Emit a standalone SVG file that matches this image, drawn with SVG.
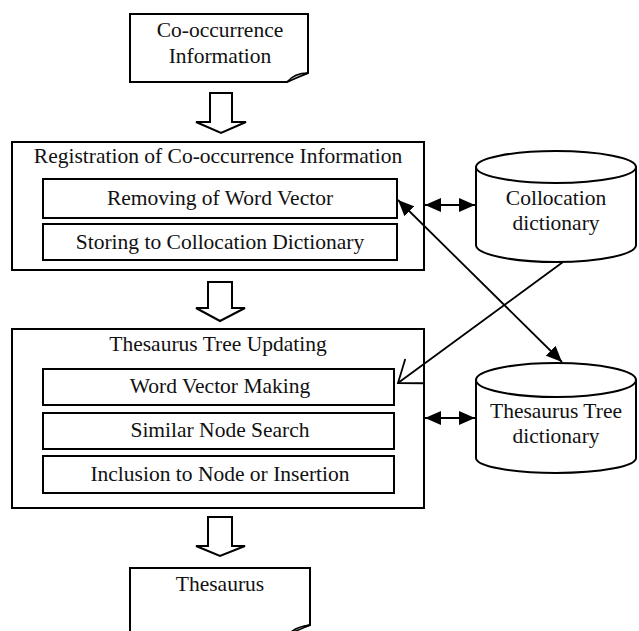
<svg xmlns="http://www.w3.org/2000/svg" width="639" height="631" viewBox="0 0 639 631">
<defs>
<style>
.box{fill:#fff;stroke:#000;stroke-width:2}
.ln{fill:none;stroke:#000;stroke-width:1.8}
.t{font-family:"Liberation Serif","Times New Roman",serif;font-size:21.5px;fill:#111;text-anchor:middle}
.blk{fill:#fff;stroke:#000;stroke-width:2;stroke-linejoin:miter}
</style>
<marker id="fa" viewBox="0 0 16 14" refX="16" refY="7" markerWidth="16" markerHeight="14" markerUnits="userSpaceOnUse" orient="auto-start-reverse">
<path d="M0,0 L16,7 L0,14 Z" fill="#000"/>
</marker>
<marker id="oa" viewBox="-1 -1 24 32" refX="20" refY="15" markerWidth="24" markerHeight="32" markerUnits="userSpaceOnUse" orient="auto">
<path d="M0,0 L20,15 L0,30" fill="none" stroke="#000" stroke-width="1.8"/>
</marker>
</defs>
<rect width="639" height="631" fill="#fff"/>

<g id="co-occurrence-info">
<path class="box" d="M130,14 H308 V73 C301,75 294,78 287,82 H130 Z"/>
<path d="M287,82 C292,76 299,73 308,73 C301,76 294,79 287,82 Z" fill="#ccc" stroke="#000" stroke-width="1.5"/>
<text class="t" x="220" y="37">Co-occurrence</text>
<text class="t" x="220" y="63">Information</text>
</g>

<g id="arrow1">
<polygon class="blk" points="210,93 232,93 232,122 246,122 221,133 196,122 210,122"/>
</g>

<g id="registration">
<rect class="box" x="12" y="142" width="412" height="128"/>
<text class="t" x="218" y="163">Registration of Co-occurrence Information</text>
<g id="removing">
<rect class="box" x="43" y="179" width="354" height="39"/>
<text class="t" x="220" y="205">Removing of Word Vector</text>
</g>
<g id="storing">
<rect class="box" x="43" y="224" width="354" height="36"/>
<text class="t" x="220" y="249">Storing to Collocation Dictionary</text>
</g>
</g>

<g id="arrow2">
<polygon class="blk" points="208,282 232,282 232,308 245,308 220,321 196,308 208,308"/>
</g>

<g id="thesaurus-updating">
<rect class="box" x="12" y="329" width="412" height="179"/>
<text class="t" x="218" y="351">Thesaurus Tree Updating</text>
<g id="word-vector-making">
<rect class="box" x="43" y="369" width="351" height="36"/>
<text class="t" x="220" y="393">Word Vector Making</text>
</g>
<g id="similar-node-search">
<rect class="box" x="43" y="413" width="351" height="36"/>
<text class="t" x="220" y="437">Similar Node Search</text>
</g>
<g id="inclusion">
<rect class="box" x="43" y="456" width="351" height="37"/>
<text class="t" x="220" y="481">Inclusion to Node or Insertion</text>
</g>
</g>

<g id="arrow3">
<polygon class="blk" points="208,517 232,517 232,546 245,546 220,556 196,546 208,546"/>
</g>

<g id="thesaurus">
<path class="box" d="M130,568 H310 V625 C303,627 296,629 290,633 H130 Z"/>
<path d="M290,633 C295,628 302,626 310,625 C303,628 297,631 290,633 Z" fill="#ccc" stroke="#000" stroke-width="1.5"/>
<text class="t" x="220" y="591">Thesaurus</text>
</g>

<g id="collocation-dictionary">
<path class="box" d="M476,167 V245 A80,17 0 0 0 636,245 V167 Z"/>
<ellipse class="box" cx="556" cy="167" rx="80" ry="16"/>
<text class="t" x="556" y="205">Collocation</text>
<text class="t" x="556" y="230">dictionary</text>
</g>

<g id="thesaurus-tree-dictionary">
<path class="box" d="M476,380 V458 A80,15 0 0 0 636,458 V380 Z"/>
<ellipse class="box" cx="556" cy="380" rx="80" ry="17"/>
<text class="t" x="556" y="418">Thesaurus Tree</text>
<text class="t" x="556" y="443">dictionary</text>
</g>

<g id="connectors">
<line class="ln" x1="425" y1="205" x2="475" y2="205" marker-start="url(#fa)" marker-end="url(#fa)"/>
<line class="ln" x1="425" y1="418" x2="475" y2="418" marker-start="url(#fa)" marker-end="url(#fa)"/>
<line class="ln" x1="398" y1="200" x2="562" y2="362" marker-start="url(#fa)" marker-end="url(#fa)"/>
<line class="ln" x1="563" y1="262" x2="398" y2="383" marker-end="url(#oa)"/>
</g>
</svg>
